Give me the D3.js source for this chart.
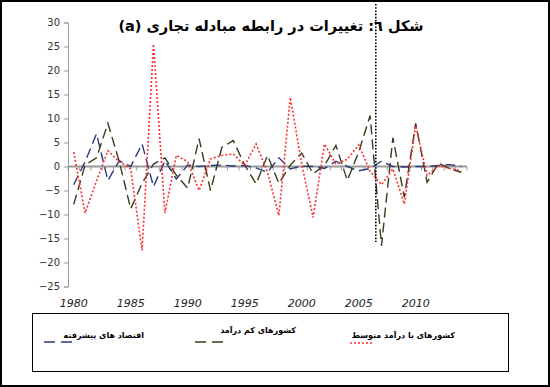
<!DOCTYPE html>
<html>
<head>
<meta charset="utf-8">
<script src="https://cdn.jsdelivr.net/npm/d3@7"></script>
<style>
  body { margin: 0; background: #fff; }
  svg { display: block; }
</style>
</head>
<body>
<div class="Canvas"></div>
<script>
// Years on the category axis.
const years = d3.range(1980, 2015);
// Terms of trade change.
const advanced = [-3.8, 1.0, 6.8, -2.9, 1.2, 0, 4.7, -4.2, 1.2, -2.6, 0.3, 0, 0.2, 0.3, 0.1, 0.2, -0.3, -1.2, 1.8, -0.5,
    0.1, 0, -0.4, 1.1, 0, -0.9, -0.4, 1.1, 0, -0.1, 0, 0, 0.2, 0.4, 0];
const lowIncome = [-7.9, 0.3, 1.8, 9.0, 1.0, -8.8, -3.5, 0.5, 1.8, -1.8, -4.5, 5.8, -5.0, 4.0, 5.4, 0.3, -3.6, 2.3, -3.5, 0.3,
    2.8, -1.5, 0.2, 4.4, -2.9, 3.0, 10.6, -16.5, 6.0, -6.4, 9.0, -3.3, 0.7, -0.5, -1.2];
const middleIncome = [3.0, -9.7, -3.0, 3.3, 1.0, -0.5, -17.5, 25.5, -9.7, 2.3, 1.0, -5.0, 1.6, 2.3, 2.6, 0.2, 4.7, -1.2, -10.2, 14.4,
    0.5, -10.6, 4.7, 0.5, 1.5, 4.5, -1.0, -3.8, -0.5, -7.8, 8.5, -1.9, 0.2, -0.4, -0.9];
const yTicks = d3.range(-25, 31, 5);
const xLabels = [1980, 1985, 1990, 1995, 2000, 2005, 2010];
const seriesNames = ['اقتصاد های پیشرفته', 'کشورهای کم درآمد', 'کشورهای با درآمد متوسط'];
const titleText = 'شکل ٦: تغییرات در رابطه مبادله تجاری (a)';

const width = 550, height = 387;
const svg = d3.select('.Canvas').append('svg').attr('width', width).attr('height', height);

// Outer frame
svg.append('rect').attr('x', 1).attr('y', 1).attr('width', width - 2).attr('height', height - 2)
    .attr('fill', '#fff').attr('stroke', '#000').attr('stroke-width', 2);

const x = d3.scalePoint().domain(years).range([68, 467]).padding(0.5);
const y = d3.scaleLinear().domain([-25, 30]).range([286.5, 22.5]);
const step = x.step();

// Y axis
const yAxis = svg.append('g').attr('transform', 'translate(68,0)')
    .call(d3.axisLeft(y).tickValues(yTicks).tickSize(4).tickSizeOuter(4).tickPadding(4));
yAxis.select('.domain').attr('stroke', '#9a9a9a');
yAxis.selectAll('.tick line').attr('stroke', '#9a9a9a');
yAxis.selectAll('text').attr('font-family', 'DejaVu Sans').attr('font-size', 10).attr('fill', '#333');

// X axis line at zero with small category ticks
svg.append('line').attr('x1', 68).attr('x2', 467).attr('y1', y(0)).attr('y2', y(0))
    .attr('stroke', '#9a9a9a').attr('stroke-width', 2);
svg.append('g').selectAll('line').data(d3.range(0, years.length + 1)).enter().append('line')
    .attr('x1', (d) => 68 + d * step).attr('x2', (d) => 68 + d * step)
    .attr('y1', y(0)).attr('y2', y(0) + 4)
    .attr('stroke', '#9a9a9a').attr('stroke-width', 1);

// X labels at the bottom
svg.append('g').selectAll('text').data(xLabels).enter().append('text')
    .attr('x', (d) => x(d)).attr('y', 307)
    .attr('text-anchor', 'middle')
    .attr('font-family', 'DejaVu Sans').attr('font-style', 'italic').attr('font-size', 11).attr('fill', '#222')
    .text((d) => d);

// Series
const series = [
    { name: seriesNames[0], values: advanced, color: '#2b3a7a', dash: '10,5', w: 1.4 },
    { name: seriesNames[1], values: lowIncome, color: '#3a3a1e', dash: '10,5', w: 1.4 },
    { name: seriesNames[2], values: middleIncome, color: '#ff2f2f', dash: '2,2', w: 1.6 },
];
const line = d3.line().x((d, i) => x(years[i])).y((d) => y(d));
svg.append('g').selectAll('path').data(series).enter().append('path')
    .attr('d', (d) => line(d.values))
    .attr('fill', 'none')
    .attr('stroke', (d) => d.color)
    .attr('stroke-width', (d) => d.w)
    .attr('stroke-dasharray', (d) => d.dash);

// Vertical dotted marker between 2006 and 2007
const markX = (x(2006) + x(2007)) / 2;
svg.append('line').attr('x1', markX).attr('x2', markX).attr('y1', 4).attr('y2', 242)
    .attr('stroke', '#000').attr('stroke-width', 1.6).attr('stroke-dasharray', '1.6,1.6');

// Title
svg.append('text').attr('x', 271).attr('y', 31)
    .attr('text-anchor', 'middle').attr('direction', 'rtl')
    .attr('font-family', 'DejaVu Sans').attr('font-weight', 'bold').attr('font-size', 14.5).attr('fill', '#000')
    .text(titleText);

// Legend
svg.append('rect').attr('x', 32.5).attr('y', 313.5).attr('width', 476).attr('height', 58)
    .attr('fill', 'none').attr('stroke', '#000').attr('stroke-width', 1);
const legendPos = [
    { x1: 44, x2: 75, tx: 144, ty: 338, ly: 342 },
    { x1: 195, x2: 229, tx: 296, ty: 333, ly: 342 },
    { x1: 350, x2: 374, tx: 455, ty: 338, ly: 343 },
];
const items = svg.append('g').selectAll('g').data(series).enter().append('g');
items.append('line')
    .attr('x1', (d, i) => legendPos[i].x1).attr('x2', (d, i) => legendPos[i].x2)
    .attr('y1', (d, i) => legendPos[i].ly).attr('y2', (d, i) => legendPos[i].ly)
    .attr('stroke', (d) => d.color).attr('stroke-width', 1.5)
    .attr('stroke-dasharray', (d, i) => (i == 2 ? '2,2' : '11,6'));
items.append('text')
    .attr('x', (d, i) => legendPos[i].tx).attr('y', (d, i) => legendPos[i].ty)
    .attr('direction', 'rtl').attr('text-anchor', 'start')
    .attr('font-family', 'DejaVu Sans').attr('font-weight', 'bold').attr('font-size', 8).attr('fill', '#000')
    .text((d) => d.name);
</script>
</body>
</html>
